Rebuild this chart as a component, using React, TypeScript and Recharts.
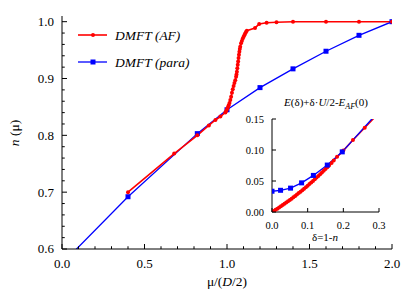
import { LineChart, Line, XAxis, YAxis } from 'recharts'

// main panel: n(mu) for the antiferromagnetic and paramagnetic DMFT solutions
const afMu = [0.4, 0.68, 0.82, 0.89, 0.93, 0.96, 0.99, 0.995, 1.0, 1.005, 1.01, 1.015, 1.02, 1.025, 1.03, 1.035, 1.04, 1.045, 1.05, 1.055, 1.0575, 1.06, 1.0625, 1.065, 1.0675, 1.07, 1.0725, 1.075, 1.0775, 1.08, 1.085, 1.09, 1.095, 1.1, 1.105, 1.11, 1.115, 1.12, 1.17, 1.195, 1.24, 1.3, 1.4, 1.6, 1.8, 2.0]
const afN = [0.7, 0.768, 0.8, 0.8175, 0.827, 0.833, 0.84, 0.843, 0.846, 0.849, 0.853, 0.857, 0.862, 0.868, 0.875, 0.881, 0.887, 0.892, 0.897, 0.903, 0.907, 0.912, 0.918, 0.924, 0.93, 0.936, 0.942, 0.947, 0.952, 0.956, 0.962, 0.966, 0.97, 0.973, 0.976, 0.979, 0.982, 0.984, 0.989, 0.996, 0.998, 0.999, 1.0, 1.0, 1.0, 1.0]
const paraMu = [0.0, 0.4, 0.82, 1.0, 1.2, 1.4, 1.6, 1.8, 2.0]
const paraN = [0.574, 0.692, 0.803, 0.845, 0.884, 0.917, 0.948, 0.976, 1.0]

const muTicks = [0, 0.1, 0.2, 0.3, 0.4, 0.5, 0.6, 0.7, 0.8, 0.9, 1.0, 1.1, 1.2, 1.3, 1.4, 1.5, 1.6, 1.7, 1.8, 1.9, 2.0]
const muLabels = [0, 0.5, 1.0, 1.5, 2.0]
const nTicks = [0.6, 0.62, 0.64, 0.66, 0.68, 0.7, 0.72, 0.74, 0.76, 0.78, 0.8, 0.82, 0.84, 0.86, 0.88, 0.9, 0.92, 0.94, 0.96, 0.98, 1.0]
const nLabels = [0.6, 0.7, 0.8, 0.9, 1.0]

// inset: E(delta) + delta*U/2 - E_AF(0)
const afDelta = [0, 0.005, 0.01, 0.015, 0.02, 0.025, 0.03, 0.035, 0.04, 0.045, 0.05, 0.055, 0.06, 0.065, 0.07, 0.075, 0.08, 0.085, 0.09, 0.095, 0.1, 0.105, 0.11, 0.115, 0.12, 0.125, 0.13, 0.135, 0.14, 0.145, 0.15, 0.155, 0.16, 0.167, 0.173, 0.1825, 0.2, 0.227, 0.26, 0.3]
const afE = [0, 0.0018, 0.0036, 0.0054, 0.0073, 0.0092, 0.0112, 0.0132, 0.0152, 0.0173, 0.0194, 0.0215, 0.0237, 0.0259, 0.0282, 0.0305, 0.0328, 0.0352, 0.0376, 0.04, 0.0425, 0.045, 0.0476, 0.0502, 0.0528, 0.0555, 0.0582, 0.0609, 0.0637, 0.0665, 0.0694, 0.0723, 0.0752, 0.079, 0.083, 0.089, 0.099, 0.116, 0.136, 0.16]
const paraDelta = [0, 0.024, 0.052, 0.083, 0.116, 0.155, 0.197, 0.308]
const paraE = [0.0335, 0.035, 0.0385, 0.047, 0.059, 0.0757, 0.097, 0.168]

const dTicks = [0, 0.1, 0.2, 0.3]
const eTicks = [0, 0.05, 0.1, 0.15]

const RED = '#ff0000'
const BLUE = '#0000ff'
const FONT = 'Liberation Serif, Times New Roman, DejaVu Serif, serif'

const afMain = afMu.map((x, i) => ({ x, y: afN[i] }))
const paraMain = paraMu.map((x, i) => ({ x, y: paraN[i] }))
const afInset = afDelta.map((x, i) => ({ x, y: afE[i] }))
const paraInset = paraDelta.map((x, i) => ({ x, y: paraE[i] }))

const redDot = (p: any) => <circle key={'r' + p.index} cx={p.cx} cy={p.cy} r={2} fill={RED} />
const blueSq = (p: any) => (
  <rect key={'b' + p.index} x={p.cx - 2.5} y={p.cy - 2.5} width={5} height={5} fill={BLUE} />
)

// inward ticks, long ones on majors, labels only where asked
function makeTick(side: string, majors: number[], showText: boolean, digits: number, len: number, size: number, gap: number) {
  return (p: any) => {
    const v = Number(p.payload.value)
    const major = majors.some((m) => Math.abs(m - v) < 1e-6)
    const L = major ? len : len * 0.55
    const { x, y } = p
    let line
    if (side === 'bottom') line = <line x1={x} y1={y} x2={x} y2={y - L} stroke="#000" />
    else if (side === 'top') line = <line x1={x} y1={y} x2={x} y2={y + L} stroke="#000" />
    else if (side === 'left') line = <line x1={x} y1={y} x2={x + L} y2={y} stroke="#000" />
    else line = <line x1={x} y1={y} x2={x - L} y2={y} stroke="#000" />
    let text = null
    if (showText && major) {
      text =
        side === 'bottom' ? (
          <text x={x} y={y + gap} dy="0.71em" textAnchor="middle" fontSize={size} style={{ fontFamily: FONT }} fill="#000">
            {v.toFixed(digits)}
          </text>
        ) : (
          <text x={x - gap} y={y} dy="0.34em" textAnchor="end" fontSize={size} style={{ fontFamily: FONT }} fill="#000">
            {v.toFixed(digits)}
          </text>
        )
    }
    return (
      <g>
        {line}
        {text}
      </g>
    )
  }
}

const axisLine = { stroke: '#000', strokeWidth: 1 }

export default function App() {
  return (
    <div style={{ position: 'absolute', left: 0, top: 0, width: 415, height: 291, background: '#fff', fontFamily: FONT }}>
      <div style={{ position: 'absolute', left: 0, top: 0 }}>
        <LineChart width={415} height={291} margin={{ top: 16, right: 23, bottom: 12, left: 8 }}>
          <XAxis xAxisId="b" type="number" dataKey="x" domain={[0, 2]} ticks={muTicks} interval={0} allowDataOverflow height={30} tickSize={0} tickMargin={0} axisLine={axisLine} tickLine={false} tick={makeTick('bottom', muLabels, true, 1, 5, 13, 10)} />
          <XAxis xAxisId="t" orientation="top" type="number" dataKey="x" domain={[0, 2]} ticks={muTicks} interval={0} allowDataOverflow height={0} tickSize={0} tickMargin={0} axisLine={axisLine} tickLine={false} tick={makeTick('top', muLabels, false, 1, 5, 13, 0)} />
          <YAxis yAxisId="l" type="number" domain={[0.6, 1.01]} ticks={nTicks} interval={0} allowDataOverflow width={54} tickSize={0} tickMargin={0} axisLine={axisLine} tickLine={false} tick={makeTick('left', nLabels, true, 1, 5, 13, 8)} />
          <YAxis yAxisId="r" orientation="right" type="number" domain={[0.6, 1.01]} ticks={nTicks} interval={0} allowDataOverflow width={0} tickSize={0} tickMargin={0} axisLine={axisLine} tickLine={false} tick={makeTick('right', nLabels, false, 1, 5, 13, 0)} />
          <Line xAxisId="b" yAxisId="l" data={paraMain} dataKey="y" stroke={BLUE} strokeWidth={1.3} dot={blueSq} activeDot={false} isAnimationActive={false} />
          <Line xAxisId="b" yAxisId="l" data={afMain} dataKey="y" stroke={RED} strokeWidth={1.6} dot={redDot} activeDot={false} isAnimationActive={false} />
        </LineChart>
      </div>
      <div style={{ position: 'absolute', left: 222, top: 100 }}>
        <LineChart width={170} height={145} margin={{ top: 19, right: 13, bottom: 8, left: 8 }}>
          <XAxis xAxisId="b" type="number" dataKey="x" domain={[0, 0.3]} ticks={dTicks} interval={0} allowDataOverflow height={25} tickSize={0} tickMargin={0} axisLine={axisLine} tickLine={false} tick={makeTick('bottom', dTicks, true, 1, 4, 10.5, 10)} />
          <XAxis xAxisId="t" orientation="top" type="number" dataKey="x" domain={[0, 0.3]} ticks={dTicks} interval={0} allowDataOverflow height={0} tickSize={0} tickMargin={0} axisLine={axisLine} tickLine={false} tick={makeTick('top', dTicks, false, 1, 4, 10.5, 0)} />
          <YAxis yAxisId="l" type="number" domain={[0, 0.15]} ticks={eTicks} interval={0} allowDataOverflow width={42} tickSize={0} tickMargin={0} axisLine={axisLine} tickLine={false} tick={makeTick('left', eTicks, true, 2, 4, 10.5, 8)} />
          <YAxis yAxisId="r" orientation="right" type="number" domain={[0, 0.15]} ticks={eTicks} interval={0} allowDataOverflow width={0} tickSize={0} tickMargin={0} axisLine={axisLine} tickLine={false} tick={makeTick('right', eTicks, false, 2, 4, 10.5, 0)} />
          <Line xAxisId="b" yAxisId="l" data={afInset} dataKey="y" stroke={RED} strokeWidth={1.6} dot={redDot} activeDot={false} isAnimationActive={false} />
          <Line xAxisId="b" yAxisId="l" data={paraInset} dataKey="y" stroke={BLUE} strokeWidth={1.3} dot={blueSq} activeDot={false} isAnimationActive={false} />
        </LineChart>
      </div>
      <svg width={415} height={291} style={{ position: 'absolute', left: 0, top: 0, pointerEvents: 'none', fontFamily: FONT }}>
        <line x1={78} y1={35} x2={107} y2={35} stroke={RED} strokeWidth={1.6} />
        <circle cx={93} cy={35} r={2} fill={RED} />
        <text x={115} y={35} dy="0.34em" fontSize={13.5} fontStyle="italic">DMFT (AF)</text>
        <line x1={78} y1={62} x2={107} y2={62} stroke={BLUE} strokeWidth={1.3} />
        <rect x={90.5} y={59.5} width={5} height={5} fill={BLUE} />
        <text x={115} y={62} dy="0.34em" fontSize={13.5} fontStyle="italic">DMFT (para)</text>
        <text x={227} y={286} textAnchor="middle" fontSize={13.5}>
          μ/(<tspan fontStyle="italic">D</tspan>/2)
        </text>
        <text x={19} y={133} textAnchor="middle" fontSize={13.5} transform="rotate(-90 19 133)">
          <tspan fontStyle="italic">n</tspan> (μ)
        </text>
        <text x={326} y={106} textAnchor="middle" fontSize={11}>
          <tspan fontStyle="italic">E</tspan>(δ)+δ·<tspan fontStyle="italic">U</tspan>/2-<tspan fontStyle="italic">E</tspan>
          <tspan fontStyle="italic" fontSize={8} dy={3}>AF</tspan>
          <tspan dy={-3}>(0)</tspan>
        </text>
        <text x={325} y={241} textAnchor="middle" fontSize={11}>
          δ=1-<tspan fontStyle="italic">n</tspan>
        </text>
      </svg>
    </div>
  )
}
